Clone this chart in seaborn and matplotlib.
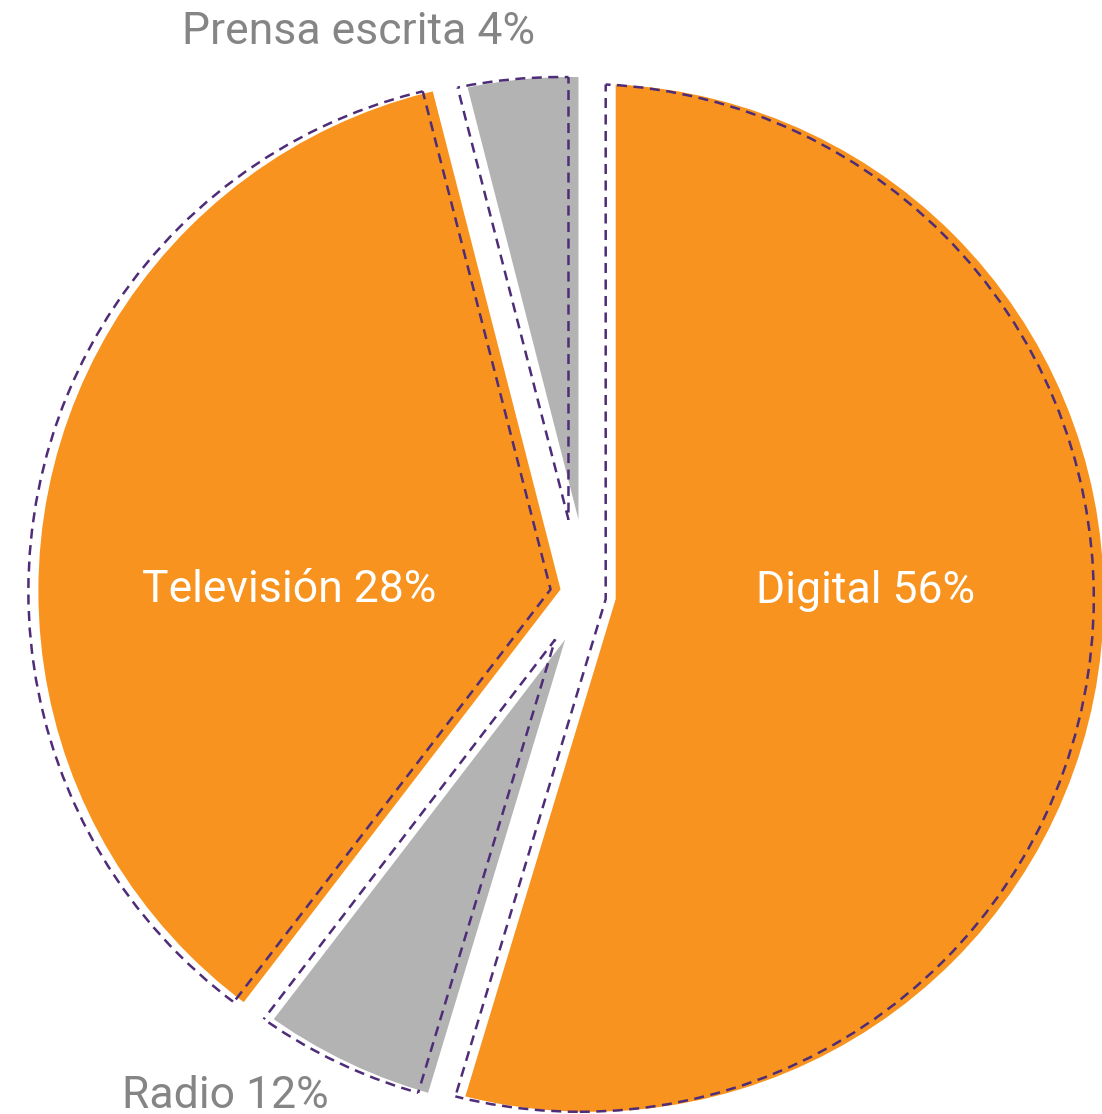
import numpy as np
import matplotlib
matplotlib.use("Agg")
import matplotlib.pyplot as plt
from matplotlib.patches import Circle
import seaborn as sns

# data
medios = ["Digital", "Radio", "Televisión", "Prensa escrita"]
pct_texto = [56, 12, 28, 4]            # percentages printed in the labels
porcion = [54.7, 5.75, 35.6, 4.0]      # share of the circle each slice takes
colores = ["#F7931E", "#B3B3B3", "#F7931E", "#B3B3B3"]

# layout (pixels, y measured upwards)
W, H = 1102, 1114
radio_vis = 514
centro_bordes = (588, 519)     # where the straight edges meet
centro_arcos = (571, 519)      # where the arcs are centred
explode_bordes = [28, 50, 28, 76]
explode_arcos = [19, 4, 19, 4]
sombra_dx = -10
morado = "#4E2C77"
gris_txt = "#858585"

# label placement: x centre, baseline (pixels from the top)
pos_etiquetas = [(865, 603), (225, 1108), (289, 602), (359, 44)]
color_etiquetas = ["white", gris_txt, "white", gris_txt]

sns.set_theme(style="white")
plt.rcParams["font.family"] = ["Roboto", "DejaVu Sans"]

fig = plt.figure(figsize=(W / 100, H / 100), dpi=100)
ax = fig.add_axes([0, 0, 1, 1])
radio_grande = radio_vis + 120


def centro_arco(w, e, dx=0):
    tm = np.deg2rad((w.theta1 + w.theta2) / 2)
    return (centro_arcos[0] + dx + e * np.cos(tm), centro_arcos[1] + e * np.sin(tm))


# filled slices
cunas, _ = ax.pie(porcion, colors=colores, startangle=90, counterclock=False,
                  radius=radio_grande, center=centro_bordes, explode=explode_bordes,
                  wedgeprops=dict(linewidth=0))
for w, e in zip(cunas, explode_arcos):
    w.set_clip_path(Circle(centro_arco(w, e), radio_vis, transform=ax.transData))
    w.set_clip_on(True)

# dashed purple outline, shifted a little to the left
estilo = dict(edgecolor=morado, linewidth=1.8, linestyle=(0, (4, 2.6)))
sombra, _ = ax.pie(porcion, startangle=90, counterclock=False,
                   radius=radio_grande, center=(centro_bordes[0] + sombra_dx, centro_bordes[1]),
                   explode=explode_bordes, wedgeprops=dict(fill=False, **estilo))
for w, e in zip(sombra, explode_arcos):
    c = centro_arco(w, e, sombra_dx)
    w.set_clip_path(Circle(c, radio_vis, transform=ax.transData))
    w.set_clip_on(True)
    arco = Circle(c, radio_vis, fill=False, zorder=w.get_zorder(), **estilo)
    ax.add_patch(arco)
    arco.set_clip_path(w)

for nombre, p, (x, yb), col in zip(medios, pct_texto, pos_etiquetas, color_etiquetas):
    ax.text(x, H - yb, f"{nombre} {p}%", ha="center", va="baseline",
            fontsize=32, color=col)

ax.set_xlim(0, W)
ax.set_ylim(0, H)
ax.set_aspect("equal")
ax.axis("off")

fig.savefig("out.png", dpi=100, facecolor="white")
